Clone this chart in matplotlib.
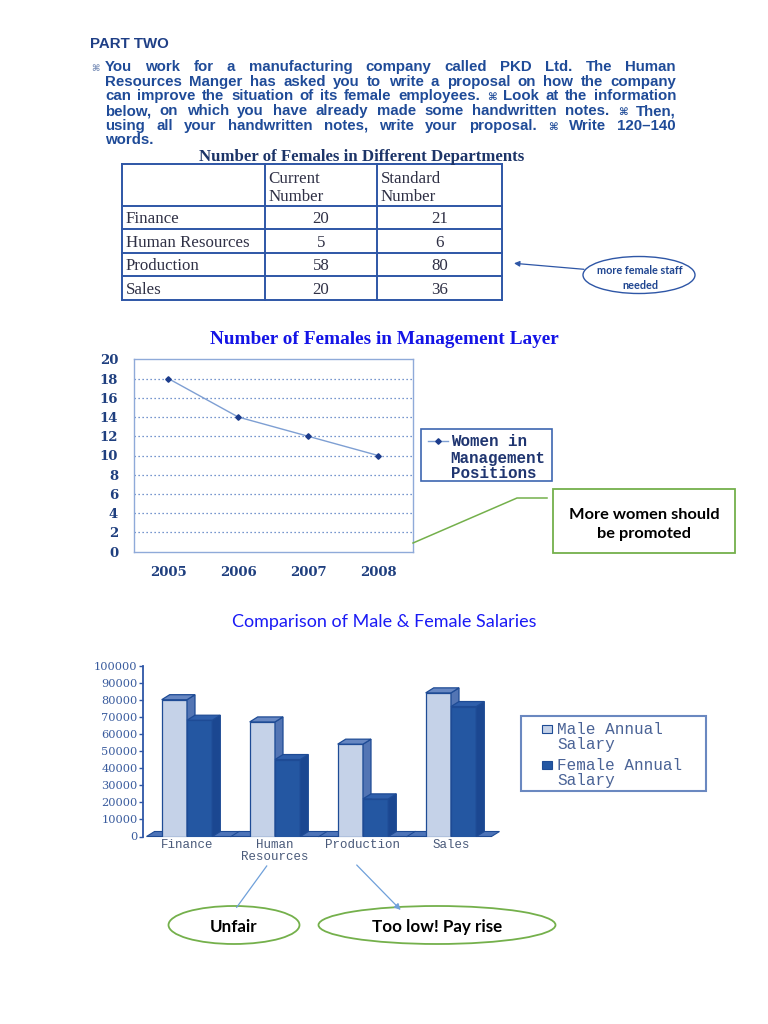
import matplotlib
matplotlib.use("Agg")
import matplotlib.pyplot as plt
from matplotlib.patches import Rectangle, Ellipse, Polygon
import numpy as np

W, H = 768, 1024

# ---- data ----
para_lines = [
    "You work for a manufacturing company called PKD Ltd. The Human",
    "Resources Manger has asked you to write a proposal on how the company",
    "can improve the situation of its female employees. ⌘ Look at the information",
    "below, on which you have already made some handwritten notes. ⌘ Then,",
    "using all your handwritten notes, write your proposal. ⌘ Write 120–140",
    "words.",
]

departments = ["Finance", "Human Resources", "Production", "Sales"]
current_number = [20, 5, 58, 20]
standard_number = [21, 6, 80, 36]
table_heads = [["Current", "Number"], ["Standard", "Number"]]

years = ["2005", "2006", "2007", "2008"]
women_mgmt = [18, 14, 12, 10]
line_legend = ["Women in", "Management", "Positions"]

salary_depts = ["Finance", "Human\nResources", "Production", "Sales"]
male_salary = [80000, 67000, 54000, 84000]
female_salary = [68000, 45000, 22000, 76000]
bar_legend = [["Male Annual", "Salary"], ["Female Annual", "Salary"]]

# ---- colours ----
NAVY = "#1F3F86"
BODY_C = "#1F4B98"
TBL_LINE = "#2E56A6"
MALE_F, MALE_S, MALE_T = "#C5D2E8", "#5375B4", "#6787C2"
FEM_F, FEM_S, FEM_T = "#2457A2", "#1B4791", "#2F5FAB"
EDGE = "#1E4B95"
GREEN = "#74B04B"

fig = plt.figure(figsize=(7.68, 10.24), dpi=100)
R = fig.canvas.get_renderer()

def rect(l, t, r, b):
    return [l / W, 1 - b / H, (r - l) / W, (b - t) / H]

# overlay axes in pixel coordinates for text and notes
pax = fig.add_axes([0, 0, 1, 1], zorder=10)
pax.set_xlim(0, W)
pax.set_ylim(H, 0)
pax.axis("off")
pax.patch.set_visible(False)

def width(s, **kw):
    t = pax.text(0, 0, s, **kw)
    w = t.get_window_extent(R).width
    t.remove()
    return w

def fit(s, w, **kw):
    return 10 * w / width(s, fontsize=10, **kw)

def put(x, y, s, **kw):
    # y is the visual middle of the line; place on a baseline below it
    em = kw.get("fontsize", 10) * 100 / 72
    return pax.text(x, y + 0.34 * em, s, va="baseline", **kw)

# ---- PART TWO + justified paragraph ----
sans_b = dict(family="Liberation Sans", weight="bold")
put(90, 43.3, "PART TWO", color=NAVY, fontsize=fit("PART TWO", 79, **sans_b), **sans_b)

BUL = dict(family="DejaVu Sans", color=BODY_C, fontsize=7.5, weight="bold")

def tok_kw(tok, fs):
    if tok == "⌘":
        return BUL
    return dict(sans_b, color=BODY_C, fontsize=fs)

L0, L1 = 105, 676
line_y = [66, 80.7, 95.3, 110, 124.7, 139.3]
fs = 10
for _ in range(3):
    nat = []
    sp = width("a a", fontsize=fs, **sans_b) - width("aa", fontsize=fs, **sans_b)
    for ln in para_lines[:-1]:
        words = ln.split(" ")
        nat.append(sum(width(w, **tok_kw(w, fs)) for w in words) + sp * (len(words) - 1))
    fs = fs * (L1 - L0) / max(nat)
fs *= 0.96

sp = width("a a", fontsize=fs, **sans_b) - width("aa", fontsize=fs, **sans_b)
bul_dy = 0.34 * fs * 100 / 72 - 0.34 * BUL["fontsize"] * 100 / 72
put(91, line_y[0] + bul_dy, "⌘", **dict(BUL, color="#7A8FB8", fontsize=6.5))
for i, ln in enumerate(para_lines):
    words = ln.split(" ")
    ws = [width(w, **tok_kw(w, fs)) for w in words]
    gap = sp if i == len(para_lines) - 1 else (L1 - L0 - sum(ws)) / (len(words) - 1)
    x = L0
    for w, wd in zip(words, ws):
        yy = line_y[i] + (bul_dy if w == "⌘" else 0)
        put(x, yy, w, ha="left", **tok_kw(w, fs))
        x += wd + gap

# ---- table ----
serif_b = dict(family="Liberation Serif", weight="bold")
t_title = "Number of Females in Different Departments"
put(362, 155, t_title, ha="center", color="#1C3468",
    fontsize=fit(t_title, 326, **serif_b), **serif_b)

cols = [122, 265, 377, 501.7]
rows = [164, 206, 229.3, 252.7, 276, 300]
for cx in cols:
    pax.plot([cx, cx], [rows[0], rows[-1]], color=TBL_LINE, lw=1.4)
for ry in rows:
    pax.plot([cols[0], cols[-1]], [ry, ry], color=TBL_LINE, lw=1.4)

serif = dict(family="Liberation Serif", color="#2F3045")
tfs = fit("Human Resources", 123, family="Liberation Serif")
for j, head in enumerate(table_heads):
    for k, s in enumerate(head):
        put(cols[j + 1] + 3.6, [177, 195][k], s, ha="left", fontsize=tfs, **serif)
for i, dep in enumerate(departments):
    yc = (rows[i + 1] + rows[i + 2]) / 2
    put(126, yc, dep, ha="left", fontsize=tfs, **serif)
    put((cols[1] + cols[2]) / 2, yc, str(current_number[i]), ha="center", fontsize=tfs, **serif)
    put((cols[2] + cols[3]) / 2, yc, str(standard_number[i]), ha="center", fontsize=tfs, **serif)

# note on the table
lato_b = dict(family=["Lato", "DejaVu Sans"], weight="bold")
pax.add_patch(Ellipse((639, 275), 112, 37, fill=False, ec=TBL_LINE, lw=1.0))
nfs = fit("more female staff", 86, **lato_b)
put(640, 270.7, "more female staff", ha="center", color="#1F4590", fontsize=nfs, **lato_b)
put(640, 285, "needed", ha="center", color="#1F4590", fontsize=nfs, **lato_b)
pax.annotate("", xy=(514, 263.3), xytext=(584, 269.3),
             arrowprops=dict(arrowstyle="-|>", color=TBL_LINE, lw=0.9,
                             mutation_scale=8, shrinkA=0, shrinkB=0))

# ---- line chart ----
l_title = "Number of Females in Management Layer"
put(384, 337, l_title, ha="center", color="#1414E6",
    fontsize=fit(l_title, 352, **serif_b), **serif_b)

lax = fig.add_axes(rect(134.3, 359.3, 413, 551.7))
xi = np.arange(len(years))
lax.plot(xi, women_mgmt, color="#7E9FD3", lw=1.0, marker="D", ms=2.8,
         mfc="#1C3C8C", mec="#1C3C8C", zorder=3)
lax.set_xlim(-0.486, 3.5)
lax.set_ylim(0, 20)
lax.set_yticks(range(0, 21, 2))
lax.set_xticks(xi, years)
for v in range(2, 20, 2):
    lax.axhline(v, color="#4A74BE", lw=0.9, ls=(0, (1, 2.2)), zorder=1)
for s in lax.spines.values():
    s.set_color("#8FAAD9")
    s.set_linewidth(1.0)
lax.tick_params(length=0, labelsize=9.5, labelcolor="#1F3F7F")
lax.tick_params(axis="y", pad=11.7)
lax.tick_params(axis="x", pad=10.6)
for t in lax.get_xticklabels() + lax.get_yticklabels():
    t.set_fontfamily("DejaVu Serif")
    t.set_fontweight("bold")

# legend box
pax.add_patch(Rectangle((421, 429), 130.7, 52, fill=False, ec="#3D66B0", lw=1.2))
pax.plot([428, 448], [441, 441], color="#7E9FD3", lw=1.0)
pax.plot([438], [441], marker="D", ms=2.8, color="#1C3C8C")
mono_b = dict(family="Liberation Mono", weight="bold", color="#1F3570")
mfs = fit("Management", 96, **mono_b)
for k, s in enumerate(line_legend):
    put(450.7, [441, 457.7, 473][k], s, ha="left", fontsize=mfs, **mono_b)

# green callout
pax.add_patch(Rectangle((553, 489), 182, 64, fill=False, ec=GREEN, lw=1.3))
pax.plot([413, 517, 547], [543, 498, 498], color=GREEN, lw=1.1)
cfs = fit("More women should", 151, **lato_b)
put(644, 513, "More women should", ha="center", color="black", fontsize=cfs, **lato_b)
put(644, 532, "be promoted", ha="center", color="black", fontsize=cfs, **lato_b)

# ---- bar chart ----
lato = dict(family=["Lato", "DejaVu Sans"])
b_title = "Comparison of Male & Female Salaries"
put(384, 621, b_title, ha="center", color="#1A1AF5", fontsize=fit(b_title, 305, **lato), **lato)

bax = fig.add_axes(rect(143, 665.5, 495, 836.5))
bax.set_xlim(-0.5, 3.5)
bax.set_ylim(0, 100000)
bax.patch.set_visible(False)
for side in ["top", "right", "bottom"]:
    bax.spines[side].set_visible(False)
bax.spines["left"].set_color(TBL_LINE)
bax.spines["left"].set_linewidth(1.3)
bax.set_yticks(range(0, 100001, 10000))
bax.tick_params(axis="y", length=3, width=1, color=TBL_LINE, pad=1,
                labelsize=8.2, labelcolor="#3A5C9E")
for t in bax.get_yticklabels():
    t.set_fontfamily("DejaVu Serif")
bx = np.arange(len(salary_depts))
bax.set_xticks(bx, salary_depts)
bax.tick_params(axis="x", length=0, pad=2, labelsize=9, labelcolor="#4A5A7A")
for t in bax.get_xticklabels():
    t.set_fontfamily("Liberation Mono")
    t.set_linespacing(0.95)

bw = 25.3 / 88
ddx = 8 / 88
ddy = 5 / 171 * 100000

# floor
bax.add_patch(Polygon([(-0.46, 0), (-0.46 + ddx, ddy), (3.46 + ddx, ddy), (3.46, 0)],
                      closed=True, fc="#4D74B8", ec=EDGE, lw=0.8, zorder=2, clip_on=False))
for b in [0.5, 1.5, 2.5]:
    bax.plot([b, b + ddx], [0, ddy], color=EDGE, lw=0.8, zorder=2, clip_on=False)

def bar3d(x0, v, front, side, top, z):
    x1 = x0 + bw
    bax.bar(x0, v, bw, align="edge", color=front, ec=EDGE, lw=0.9, zorder=z)
    bax.add_patch(Polygon([(x1, 0), (x1 + ddx, ddy), (x1 + ddx, v + ddy), (x1, v)],
                          closed=True, fc=side, ec=EDGE, lw=0.9, zorder=z, clip_on=False))
    bax.add_patch(Polygon([(x0, v), (x0 + ddx, v + ddy), (x1 + ddx, v + ddy), (x1, v)],
                          closed=True, fc=top, ec=EDGE, lw=0.9, zorder=z, clip_on=False))

for i in range(len(salary_depts)):
    bar3d(bx[i] - bw, male_salary[i], MALE_F, MALE_S, MALE_T, 3)
    bar3d(bx[i], female_salary[i], FEM_F, FEM_S, FEM_T, 4)

# bar legend
pax.add_patch(Rectangle((520.7, 715.7), 185, 75, fill=False, ec="#6A88C0", lw=1.5))
mono = dict(family="Liberation Mono", color="#4A6396")
lfs = fit("Female Annual", 126, **mono)
for k, (lab, fc) in enumerate(zip(bar_legend, [MALE_F, FEM_F])):
    y0 = [729, 765][k]
    pax.add_patch(Rectangle((541.7, y0 - 4), 10, 8, fc=fc, ec=EDGE, lw=0.8))
    put(557, y0, lab[0], ha="left", fontsize=lfs, **mono)
    put(557, y0 + 14.8, lab[1], ha="left", fontsize=lfs, **mono)

# notes under bar chart
pax.plot([266.7, 236.7], [866, 907.3], color="#6FA0DA", lw=0.9)
pax.annotate("", xy=(400.7, 910), xytext=(356.7, 865),
             arrowprops=dict(arrowstyle="-|>", color="#6FA0DA", lw=0.9,
                             mutation_scale=9, shrinkA=0, shrinkB=0))
pax.add_patch(Ellipse((234, 925), 131, 38, fill=False, ec=GREEN, lw=1.3))
pax.add_patch(Ellipse((437, 925), 237, 38, fill=False, ec=GREEN, lw=1.3))
efs = fit("Too low! Pay rise", 130, **lato_b)
put(234, 926.7, "Unfair", ha="center", color="black", fontsize=efs, **lato_b)
put(437, 926.7, "Too low! Pay rise", ha="center", color="black", fontsize=efs, **lato_b)

fig.savefig("out.png", dpi=100)
